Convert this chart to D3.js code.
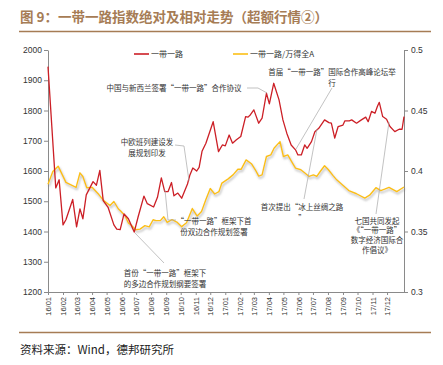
<!DOCTYPE html>
<html>
<head>
<meta charset="utf-8">
<script src="https://cdn.jsdelivr.net/npm/d3@7"></script>
<style>
  body { margin: 0; background: #fff; }
  svg { display: block; }
</style>
</head>
<body>
<div id="chart"></div>
<script>
// 一带一路 index (left axis)
const redDates = [
  '2016-01-01','2016-01-17','2016-01-24','2016-02-01','2016-02-07','2016-02-21','2016-02-29','2016-03-07',
  '2016-03-13','2016-03-20','2016-04-03','2016-04-10','2016-04-17','2016-04-24','2016-05-04','2016-05-16',
  '2016-05-22','2016-05-29','2016-06-06','2016-06-15','2016-06-27','2016-07-05','2016-07-17','2016-07-24',
  '2016-08-06','2016-08-14','2016-08-22','2016-08-29','2016-09-05','2016-09-12','2016-09-17','2016-09-25',
  '2016-10-03','2016-10-15','2016-10-20','2016-10-26','2016-11-03','2016-11-08','2016-11-14','2016-11-22',
  '2016-12-07','2016-12-18','2016-12-26','2017-01-01','2017-01-09','2017-01-16','2017-01-24','2017-02-02',
  '2017-02-12','2017-02-17','2017-02-22','2017-03-01','2017-03-11','2017-03-18','2017-03-27','2017-04-02',
  '2017-04-11','2017-04-22','2017-04-30','2017-05-08','2017-05-17','2017-05-26','2017-05-31','2017-06-07',
  '2017-06-14','2017-06-19','2017-06-28','2017-07-05','2017-07-13','2017-07-25','2017-08-03','2017-08-08',
  '2017-08-15','2017-08-22','2017-09-01','2017-09-05','2017-09-14','2017-09-19','2017-09-29','2017-10-09',
  '2017-10-18','2017-10-23','2017-10-30','2017-11-06','2017-11-11','2017-11-15','2017-11-22','2017-11-30',
  '2017-12-07','2017-12-17','2017-12-26','2018-01-01','2018-01-05'
];
const redValues = [
  1945,1544,1571,1422,1439,1506,1415,1475,
  1442,1521,1565,1553,1602,1502,1480,1422,
  1408,1406,1458,1442,1398,1448,1517,1492,
  1481,1513,1577,1532,1532,1562,1518,1527,
  1510,1557,1587,1610,1600,1612,1665,1692,
  1763,1664,1686,1683,1719,1692,1703,1714,
  1780,1778,1786,1802,1758,1775,1857,1822,
  1890,1835,1769,1725,1686,1670,1653,1653,
  1686,1675,1697,1730,1741,1769,1760,1758,
  1709,1747,1752,1766,1766,1769,1758,1769,
  1778,1763,1797,1791,1813,1827,1780,1771,
  1747,1730,1738,1738,1780
];

// 一带一路/万得全A (right axis)
const yellowDates = [
  '2016-01-01','2016-01-11','2016-01-22','2016-02-07','2016-02-28','2016-03-07','2016-03-13','2016-03-21',
  '2016-04-01','2016-04-15','2016-04-25','2016-05-08','2016-05-16','2016-05-25','2016-05-30','2016-06-08',
  '2016-06-15','2016-06-20','2016-06-30','2016-07-09','2016-07-19','2016-07-28','2016-08-05','2016-08-11',
  '2016-08-20','2016-08-27','2016-09-03','2016-09-13','2016-09-23','2016-10-03','2016-10-13','2016-10-25',
  '2016-11-04','2016-11-13','2016-11-22','2016-12-01','2016-12-10','2016-12-19','2016-12-25','2017-01-07',
  '2017-01-17','2017-01-27','2017-02-03','2017-02-13','2017-02-24','2017-03-04','2017-03-11','2017-03-18',
  '2017-03-27','2017-04-05','2017-04-12','2017-04-24','2017-05-01','2017-05-10','2017-05-18','2017-05-26',
  '2017-06-06','2017-06-15','2017-06-23','2017-07-02','2017-07-09','2017-07-16','2017-07-25','2017-08-02',
  '2017-08-12','2017-08-19','2017-09-02','2017-09-13','2017-09-29','2017-10-16','2017-10-26','2017-11-08',
  '2017-11-18','2017-11-26','2017-12-05','2017-12-21','2018-01-05'
];
const yellowValues = [
  0.389,0.3995,0.404,0.3906,0.3865,0.3985,0.3955,0.3862,
  0.3865,0.3805,0.3755,0.3715,0.3748,0.3688,0.367,0.363,
  0.357,0.3555,0.3515,0.352,0.3548,0.3538,0.3597,0.359,
  0.359,0.3622,0.3575,0.3598,0.3578,0.354,0.3573,0.369,
  0.3628,0.3665,0.3765,0.3855,0.381,0.383,0.390,0.3935,
  0.3968,0.4015,0.4015,0.4092,0.406,0.401,0.3958,0.3968,
  0.412,0.4133,0.419,0.4243,0.412,0.4133,0.4078,0.4024,
  0.401,0.3982,0.3955,0.3968,0.3955,0.3996,0.4043,0.401,
  0.396,0.3927,0.3878,0.3838,0.3812,0.3776,0.380,0.3862,
  0.3838,0.385,0.3865,0.383,0.3868
];

const monthTicks = [
  '2016-01-01','2016-02-01','2016-03-01','2016-04-01','2016-05-01','2016-06-01',
  '2016-07-01','2016-08-01','2016-09-01','2016-10-01','2016-11-01','2016-12-01',
  '2017-01-01','2017-02-01','2017-03-01','2017-04-01','2017-05-01','2017-06-01',
  '2017-07-01','2017-08-01','2017-09-01','2017-10-01','2017-11-01','2017-12-01'
];
const leftTicks = [1200, 1300, 1400, 1500, 1600, 1700, 1800, 1900, 2000];
const rightTicks = [0.3, 0.35, 0.4, 0.45, 0.5];
const seriesNames = ['一带一路', '一带一路/万得全A'];

const titleText = '图 9：一带一路指数绝对及相对走势（超额行情②）';
const sourceText = '资料来源：Wind，德邦研究所';

const noteTexts = [
  ['中国与新西兰签署“一带一路”合作协议'],
  ['首届“一带一路”国际合作高峰论坛举', '行'],
  ['中欧班列建设发', '展规划印发'],
  ['“一带一路”框架下首', '份双边合作规划签署'],
  ['首份“一带一路”框架下', '的多边合作规划纲要签署'],
  ['首次提出“冰上丝绸之路', '”'],
  ['七国共同发起', '《“一带一路”', '数字经济国际合', '作倡议》']
];

const W = 443, H = 365;
const RED = '#cc1f26', YELLOW = '#fbbf16', BROWN = '#a67c55';
const NUM_FONT = '"Liberation Sans", Arial, sans-serif';
const CJK_FONT = '"Noto Sans CJK SC", sans-serif';

const parse = d3.timeParse('%Y-%m-%d');
const red = redDates.map((d, i) => ({ date: parse(d), value: redValues[i] }));
const yellow = yellowDates.map((d, i) => ({ date: parse(d), value: yellowValues[i] }));

const svg = d3.select('#chart').append('svg')
  .attr('width', W).attr('height', H);

const defs = svg.append('defs');
const shadow = defs.append('filter').attr('id', 'shadow')
  .attr('x', '-5%').attr('y', '-20%').attr('width', '110%').attr('height', '150%');
shadow.append('feDropShadow')
  .attr('dx', 1).attr('dy', 2).attr('stdDeviation', 1)
  .attr('flood-color', '#777').attr('flood-opacity', 0.55);

// title + rules
svg.append('text')
  .attr('x', 20).attr('y', 22)
  .style('font-family', CJK_FONT).style('font-size', '13.5px').style('font-weight', 'bold')
  .style('fill', BROWN)
  .text(titleText);
svg.append('line').attr('x1', 19).attr('x2', 431).attr('y1', 31.5).attr('y2', 31.5)
  .attr('stroke', BROWN).attr('stroke-width', 1.6);
svg.append('line').attr('x1', 19).attr('x2', 431).attr('y1', 332.5).attr('y2', 332.5)
  .attr('stroke', BROWN).attr('stroke-width', 1.6);
svg.append('text')
  .attr('x', 20).attr('y', 354)
  .style('font-family', CJK_FONT).style('font-size', '11.5px').style('fill', '#222')
  .text(sourceText);

// scales
const x = d3.scaleTime()
  .domain([parse('2016-01-01'), parse('2018-01-05')])
  .range([48, 404]);
const yL = d3.scaleLinear().domain([1200, 2000]).range([292, 50]);
const yR = d3.scaleLinear().domain([0.3, 0.5]).range([292, 50]);

// axes
function styleAxis(g) {
  g.select('.domain').attr('stroke', '#8a8a8a');
  g.selectAll('.tick line').attr('stroke', '#8a8a8a');
  g.selectAll('.tick text').style('fill', '#333');
}

svg.append('g')
  .attr('transform', 'translate(48,0)')
  .call(d3.axisLeft(yL).tickValues(leftTicks).tickFormat(d => String(d)).tickSize(4).tickPadding(2).tickSizeOuter(0))
  .call(styleAxis)
  .call(g => g.selectAll('text').style('font-family', NUM_FONT).style('font-size', '8.5px'));

svg.append('g')
  .attr('transform', 'translate(404,0)')
  .call(d3.axisRight(yR).tickValues(rightTicks).tickFormat(d => String(d)).tickSize(4).tickPadding(3).tickSizeOuter(0))
  .call(styleAxis)
  .call(g => g.selectAll('text').style('font-family', NUM_FONT).style('font-size', '8.5px'));

svg.append('g')
  .attr('transform', 'translate(0,292)')
  .call(d3.axisBottom(x).tickValues(monthTicks.map(parse)).tickFormat(d3.timeFormat('%y/%m')).tickSize(3).tickSizeOuter(0))
  .call(styleAxis)
  .call(g => g.selectAll('text')
    .style('font-family', NUM_FONT).style('font-size', '7.5px')
    .attr('transform', 'rotate(-90)')
    .attr('x', -5).attr('y', 0).attr('dy', '0.35em')
    .style('text-anchor', 'end'));

// lines
const lineL = d3.line().x(d => x(d.date)).y(d => yL(d.value));
const lineR = d3.line().x(d => x(d.date)).y(d => yR(d.value));

svg.append('path').datum(yellow)
  .attr('d', lineR)
  .attr('fill', 'none').attr('stroke', YELLOW).attr('stroke-width', 1.4)
  .attr('stroke-linejoin', 'round')
  .attr('filter', 'url(#shadow)');

svg.append('path').datum(red)
  .attr('d', lineL)
  .attr('fill', 'none').attr('stroke', RED).attr('stroke-width', 1.3)
  .attr('stroke-linejoin', 'round');

// legend
const legend = svg.append('g').style('font-family', CJK_FONT).style('font-size', '8px');
[[134, RED], [233, YELLOW]].forEach(([lx, c], i) => {
  legend.append('line').attr('x1', lx).attr('x2', lx + 15).attr('y1', 54).attr('y2', 54)
    .attr('stroke', c).attr('stroke-width', 1.6);
  legend.append('text').attr('x', lx + 17).attr('y', 54).attr('dy', '0.35em')
    .style('fill', '#333').text(seriesNames[i]);
});

// annotations
const notes = svg.append('g').style('font-family', CJK_FONT).style('font-size', '7.5px').style('fill', '#333');
const leaders = [
  [[247, 88], [258, 88], [267, 93]],
  [[332, 88], [296, 149]],
  [[175, 145], [184, 146], [189, 181]],
  [[165, 190], [168, 220], [176, 220]],
  [[135, 233], [164, 263]],
  [[304, 199], [317, 129]],
  [[376, 214], [389, 122]]
];
const noteLayout = [
  { x: 174, y: 88, lh: 11 },
  { x: 332, y: 72, lh: 11 },
  { x: 147, y: 142, lh: 11 },
  { x: 214, y: 221, lh: 11 },
  { x: 165, y: 273, lh: 11 },
  { x: 302, y: 207, lh: 11 },
  { x: 377, y: 221, lh: 9.8 }
];

leaders.forEach(pts => {
  notes.append('path')
    .attr('d', d3.line()(pts))
    .attr('fill', 'none').attr('stroke', '#a8a8a8').attr('stroke-width', 0.7);
});

noteTexts.forEach((lines, i) => {
  const L = noteLayout[i];
  lines.forEach((t, j) => {
    notes.append('text')
      .attr('x', L.x).attr('y', L.y + j * L.lh).attr('dy', '0.35em')
      .attr('text-anchor', 'middle')
      .text(t);
  });
});
</script>
</body>
</html>
